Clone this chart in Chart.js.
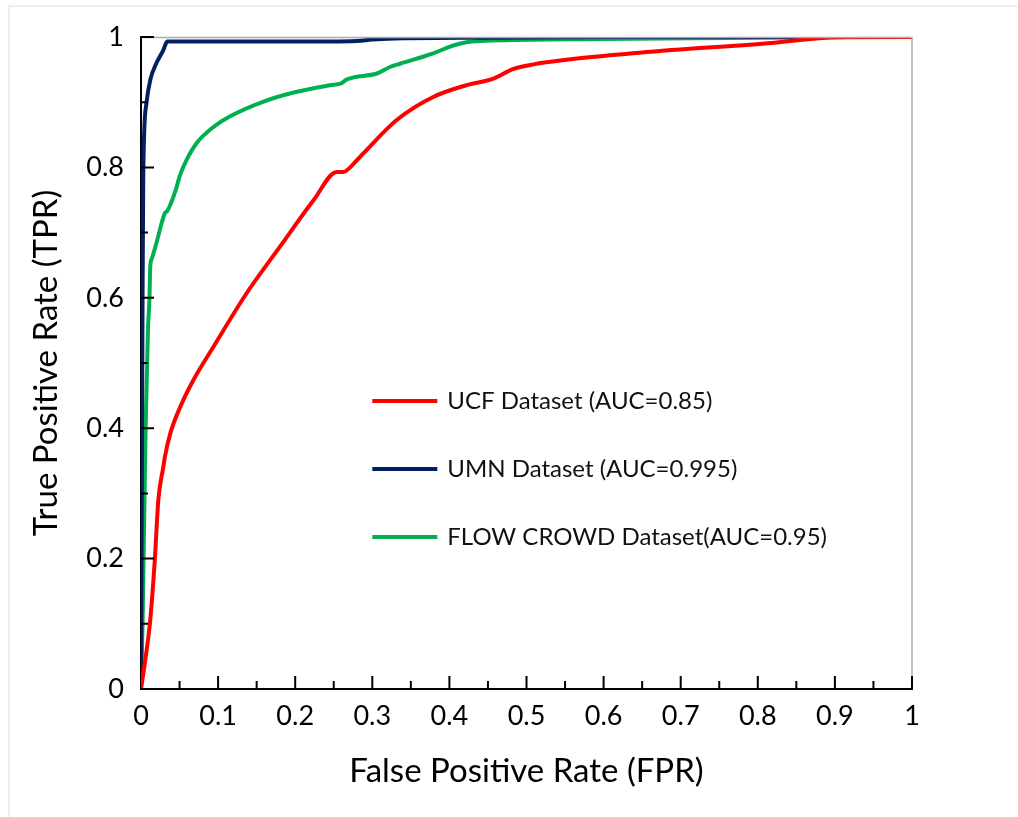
<!DOCTYPE html>
<html>
<head>
<meta charset="utf-8">
<script src="https://cdn.jsdelivr.net/npm/chart.js@4/dist/chart.umd.min.js"></script>
<style>
  html, body { margin: 0; padding: 0; background: #fff; }
  #wrap { position: relative; width: 1018px; height: 817px; }
  #frame { position: absolute; left: 8px; top: 5px; right: 0; bottom: 0;
           border-left: 2px solid #eee; border-top: 2px solid #eee; }
  canvas { position: absolute; left: 0; top: 0; }
</style>
</head>
<body>
<div id="wrap">
  <div id="frame"></div>
  <canvas id="roc" width="1018" height="817"></canvas>
</div>
<script>
// ROC curves
const UCF_FPR = [0, 0.005, 0.012, 0.018, 0.0225, 0.029, 0.031, 0.038, 0.051, 0.068, 0.094, 0.137, 0.180, 0.224, 0.254, 0.262, 0.280, 0.288, 0.332, 0.379, 0.422, 0.457, 0.483, 0.509, 0.552, 0.638, 0.725, 0.79, 0.917, 1];
const UCF_TPR = [0, 0.04, 0.106, 0.2, 0.29, 0.341, 0.356, 0.392, 0.433, 0.474, 0.525, 0.607, 0.678, 0.75, 0.793, 0.793, 0.811, 0.821, 0.873, 0.908, 0.926, 0.936, 0.951, 0.958, 0.965, 0.975, 0.983, 0.988, 1, 1];

const UMN_FPR = [0, 0.001, 0.002, 0.003, 0.007, 0.012, 0.02, 0.029, 0.034, 0.1, 0.2, 0.28, 0.3, 0.34, 0.45, 0.6, 1];
const UMN_TPR = [0, 0.3, 0.6, 0.796, 0.898, 0.934, 0.96, 0.98, 0.993, 0.993, 0.993, 0.994, 0.996, 0.998, 0.999, 1, 1];

const FLOW_FPR = [0, 0.002, 0.004, 0.006, 0.009, 0.011, 0.012, 0.014, 0.02, 0.031, 0.034, 0.045, 0.050, 0.059, 0.072, 0.094, 0.115, 0.159, 0.202, 0.245, 0.26, 0.267, 0.306, 0.323, 0.336, 0.379, 0.405, 0.422, 0.466, 0.595, 0.8, 1];
const FLOW_TPR = [0, 0.1, 0.25, 0.4, 0.55, 0.6, 0.648, 0.66, 0.684, 0.73, 0.733, 0.765, 0.786, 0.811, 0.837, 0.862, 0.878, 0.901, 0.916, 0.926, 0.929, 0.935, 0.944, 0.954, 0.959, 0.975, 0.987, 0.992, 0.995, 0.997, 0.999, 1];

const LABELS = ['UCF Dataset (AUC=0.85)', 'UMN Dataset (AUC=0.995)', 'FLOW CROWD Dataset(AUC=0.95)'];
const COLORS = ['#ff0000', '#002060', '#00b050'];

let toPoints = (xs, ys) => xs.map((x, i) => ({x: x, y: ys[i]}));

let lineConfig = (label, color, points) => {
  return {
    label: label,
    data: points,
    borderColor: color,
    backgroundColor: color,
    borderWidth: 4,
    pointRadius: 0,
    fill: false,
    cubicInterpolationMode: 'monotone'
  };
};

// inward tick marks + grey top/right frame
const innerTicks = {
  id: 'innerTicks',
  afterDatasetsDraw(chart) {
    const {ctx, chartArea: a, scales: {x, y}} = chart;
    ctx.save();
    ctx.strokeStyle = '#aaa';
    ctx.lineWidth = 1.5;
    ctx.beginPath();
    ctx.moveTo(a.left, a.top + 0.5);
    ctx.lineTo(a.right, a.top + 0.5);
    ctx.lineTo(a.right, a.bottom);
    ctx.stroke();

    ctx.strokeStyle = '#000';
    ctx.lineWidth = 2;
    ctx.beginPath();
    for (let i = 1; i <= 20; i ++) {
      let px = x.getPixelForValue(i / 20);
      let len = i % 2 === 0 ? 13 : 8;
      ctx.moveTo(px, a.bottom);
      ctx.lineTo(px, a.bottom - len);
    }
    for (let i = 0; i <= 10; i ++) {
      let py = y.getPixelForValue(i / 10);
      let len = i % 2 === 0 ? 13 : 7;
      ctx.moveTo(a.left, py);
      ctx.lineTo(a.left + len, py);
    }
    ctx.stroke();
    ctx.restore();
  }
};

// legend drawn inside the plot area
const innerLegend = {
  id: 'innerLegend',
  afterDatasetsDraw(chart) {
    const {ctx, chartArea: a} = chart;
    const w = a.right - a.left;
    const h = a.bottom - a.top;
    const x0 = a.left + 0.3 * w;
    ctx.save();
    ctx.font = '24px Lato';
    ctx.textBaseline = 'middle';
    chart.data.datasets.forEach((ds, i) => {
      let yy = a.top + 0.5583 * h + i * 68;
      ctx.strokeStyle = ds.borderColor;
      ctx.lineWidth = 4;
      ctx.beginPath();
      ctx.moveTo(x0, yy);
      ctx.lineTo(x0 + 65, yy);
      ctx.stroke();
      ctx.fillStyle = '#111';
      ctx.fillText(ds.label, x0 + 75, yy);
    });
    ctx.restore();
  }
};

Chart.defaults.color = '#000';
Chart.defaults.font.family = 'Lato';

const fmt = (v) => String(Number(v.toFixed(2)));

new Chart(document.getElementById('roc'), {
  type: 'line',
  data: {
    datasets: [
      lineConfig(LABELS[0], COLORS[0], toPoints(UCF_FPR, UCF_TPR)),
      lineConfig(LABELS[1], COLORS[1], toPoints(UMN_FPR, UMN_TPR)),
      lineConfig(LABELS[2], COLORS[2], toPoints(FLOW_FPR, FLOW_TPR))
    ]
  },
  options: {
    responsive: false,
    animation: false,
    events: [],
    layout: {padding: {left: 0, top: 37, right: 106, bottom: 0}},
    plugins: {legend: {display: false}, tooltip: {enabled: false}},
    scales: {
      x: {
        type: 'linear',
        min: 0,
        max: 1,
        grid: {display: false},
        border: {display: true, color: '#000', width: 2},
        ticks: {stepSize: 0.1, padding: 3, maxRotation: 0, font: {size: 27}, callback: fmt},
        title: {display: true, text: 'False Positive Rate (FPR)', font: {size: 33}, padding: {top: 0, bottom: 26}},
        afterFit: (s) => { s.height = 128; }
      },
      y: {
        type: 'linear',
        min: 0,
        max: 1,
        grid: {display: false},
        border: {display: true, color: '#000', width: 2},
        ticks: {stepSize: 0.2, padding: 9, font: {size: 27}, callback: fmt},
        title: {display: true, text: 'True Positive Rate (TPR)', font: {size: 33}, padding: {top: 27, bottom: 0}},
        afterFit: (s) => { s.width = 141; }
      }
    }
  },
  plugins: [innerTicks, innerLegend]
});
</script>
</body>
</html>
